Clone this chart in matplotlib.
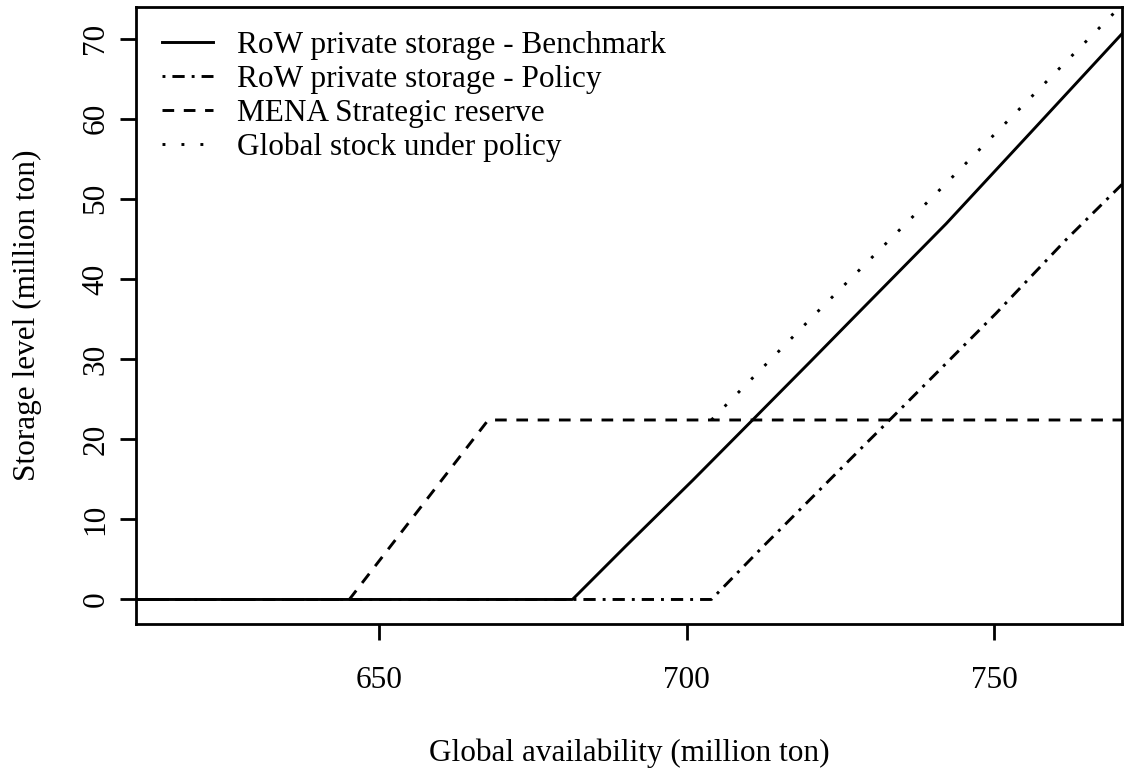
import matplotlib
matplotlib.use("Agg")
from matplotlib import pyplot as plt

# global availability (million ton) and storage levels (million ton)
x_bench = [610.4, 681.4, 690.0, 701.0, 710.7, 720.0, 727.3, 742.2, 756.7, 770.8]
y_bench = [0.0, 0.0, 6.6, 14.9, 22.4, 29.6, 35.3, 46.9, 58.9, 70.6]

x_policy = [610.4, 704.0, 712.4, 729.2, 733.0, 750.3, 761.7, 770.8]
y_policy = [0.0, 0.0, 6.6, 19.5, 22.4, 35.7, 44.9, 51.8]

x_mena = [610.4, 645.1, 667.7, 770.8]
y_mena = [0.0, 0.0, 22.4, 22.4]

x_global = [704.0, 721.0, 741.9, 770.8]
y_global = [22.4, 35.7, 51.7, 74.2]

labels = ["RoW private storage - Benchmark", "RoW private storage - Policy",
          "MENA Strategic reserve", "Global stock under policy"]
x_ticks = [650, 700, 750]
y_ticks = [0, 10, 20, 30, 40, 50, 60, 70]

plt.rcParams["font.family"] = ["Liberation Serif", "DejaVu Serif"]
plt.rcParams["font.size"] = 22.5

fig = plt.figure(figsize=(11.26, 7.72), dpi=100)
W, H = 1126, 772
ax = fig.add_axes([136 / W, 1 - 624 / H, (1122 - 136) / W, (624 - 7.3) / H])

lw = 2.1
ax.plot(x_bench, y_bench, color="black", lw=lw, linestyle="-", label=labels[0])
ax.plot(x_policy, y_policy, color="black", lw=lw, linestyle=(0, (1.0, 2.4, 4.2, 2.4)), label=labels[1])
ax.plot(x_mena, y_mena, color="black", lw=lw, linestyle=(0, (4.0, 3.3)), label=labels[2])
ax.plot(x_global, y_global, color="black", lw=lw, linestyle=(0, (1.0, 5.5)), label=labels[3])

ax.set_xlim(610.4, 770.8)
ax.set_ylim(-3.06, 73.9)
ax.set_xticks(x_ticks)
ax.set_yticks(y_ticks)

for s in ax.spines.values():
    s.set_linewidth(2.0)
ax.tick_params(direction="out", length=11.5, width=2.0)
ax.tick_params(axis="x", pad=19)
ax.tick_params(axis="y", pad=7, labelrotation=90)
for t in ax.get_yticklabels():
    t.set_va("center")

ax.set_xlabel("Global availability (million ton)", labelpad=31)
ax.set_ylabel("Storage level (million ton)", labelpad=28)

ax.legend(loc="upper left", bbox_to_anchor=(0.026, 0.962), frameon=False,
          borderpad=0, borderaxespad=0, handlelength=1.65, handletextpad=0.75,
          labelspacing=0.16)

fig.savefig("out.png", dpi=100)
